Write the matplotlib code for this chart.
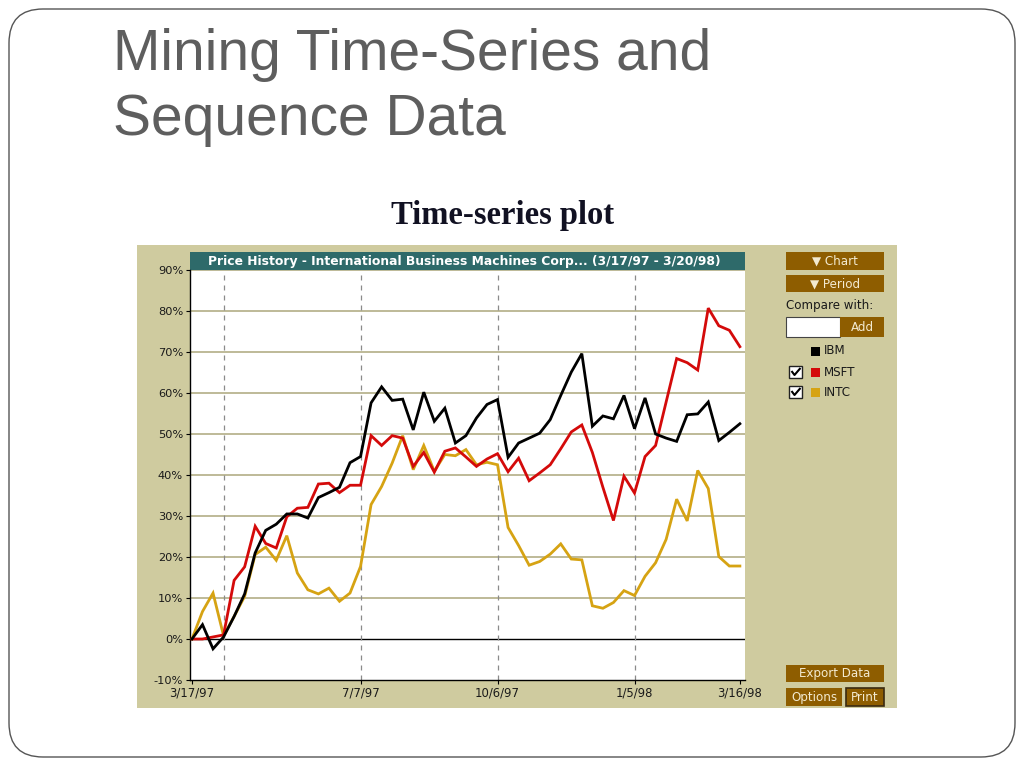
import matplotlib
matplotlib.use("Agg")
import matplotlib.pyplot as plt
from matplotlib.patches import Rectangle, FancyBboxPatch
import pandas as pd

# ---------------- data ----------------
start_date = "1997-03-17"
n_weeks = 53
ibm = [0, 3.5, -2.4, 0.5, 5.5, 11, 21, 26.5, 28, 30.5, 30.5, 29.5, 34.5, 35.7, 37, 43, 44.5,
       57.6, 61.5, 58.2, 58.5, 51, 60.2, 53.1, 56.3, 47.8, 49.6, 53.9, 57.2, 58.4,
       44.3, 47.8, 49, 50.2, 53.5, 59.4, 65.1, 69.6, 51.9, 54.4, 53.7, 59.4, 51.3,
       58.8, 50, 49, 48.2, 54.7, 54.9, 57.8, 48.4, 50.4, 52.5]
msft = [0, 0, 0.5, 1, 14.3, 17.6, 27.5, 23.3, 22.2, 29.8, 31.9, 32.1, 37.8, 38, 35.7, 37.5, 37.5,
        49.6, 47.2, 49.6, 49, 42.1, 45.5, 40.7, 45.8, 46.6, 44.4, 42.1, 43.9, 45.2,
        40.8, 44.1, 38.6, 40.5, 42.5, 46.4, 50.5, 52.2, 45.5, 37, 28.9, 39.7, 35.6,
        44.5, 47.2, 57.8, 68.4, 67.4, 65.6, 80.7, 76.4, 75.3, 71.3]
intc = [0, 6.7, 11.2, 0.8, 5.5, 10.4, 20.6, 22.4, 19.2, 25.2, 16.1, 12, 11, 12.4, 9.2, 11.2, 17.7,
        32.8, 37.2, 42.9, 49.6, 41.3, 47.2, 40.9, 45, 44.7, 46.2, 42.5, 43.1, 42.5,
        27.2, 22.8, 18, 18.9, 20.7, 23.2, 19.5, 19.3, 8.1, 7.5, 8.9, 11.8, 10.6,
        15.3, 18.6, 24.3, 34.1, 28.8, 41.1, 36.7, 20.1, 17.8, 17.8]
series_names = ["IBM", "MSFT", "INTC"]
series_colors = ["#000000", "#d40a0a", "#d6a313"]
x_tick_dates = ["1997-03-17", "1997-07-07", "1997-10-06", "1998-01-05", "1998-03-16"]
x_tick_labels = ["3/17/97", "7/7/97", "10/6/97", "1/5/98", "3/16/98"]
dashed_dates = ["1997-04-07", "1997-07-07", "1997-10-06", "1998-01-05"]
y_ticks = [-10, 0, 10, 20, 30, 40, 50, 60, 70, 80, 90]
y_tick_labels = ["-10%", "0%", "10%", "20%", "30%", "40%", "50%", "60%", "70%", "80%", "90%"]
chart_title = "Price History - International Business Machines Corp... (3/17/97 - 3/20/98)"

dates = pd.date_range(start_date, periods=n_weeks, freq="7D")

# ---------------- figure ----------------
W, H = 1024, 768
fig = plt.figure(figsize=(W / 100, H / 100), dpi=100)
fig.patch.set_facecolor("white")

def rect(x0, y0, x1, y1):
    return [x0 / W, 1 - y1 / H, (x1 - x0) / W, (y1 - y0) / H]

bg = fig.add_axes([0, 0, 1, 1], zorder=0)
bg.set_xlim(0, W)
bg.set_ylim(H, 0)
bg.axis("off")

# slide frame
bg.add_patch(FancyBboxPatch((9, 9), 1006, 748, boxstyle="round,pad=0,rounding_size=34",
                            facecolor="white", edgecolor="#555555", linewidth=1.0))

# slide title
title_col = "#5e5e5e"
bg.text(113, 70, "Mining Time-Series and", fontsize=41, color=title_col,
        family="Liberation Sans", va="baseline", ha="left")
bg.text(113, 135, "Sequence Data", fontsize=41, color=title_col,
        family="Liberation Sans", va="baseline", ha="left")

# subtitle
bg.text(503, 224, "Time-series plot", fontsize=23.5, fontweight="bold", color="#111122",
        family="Liberation Serif", va="baseline", ha="center")

# khaki panel
khaki = "#cfcb9f"
bg.add_patch(Rectangle((137, 245), 760, 463, facecolor=khaki, edgecolor="none"))

# chart title bar
bg.add_patch(Rectangle((190, 252), 555, 18, facecolor="#2e6a6a", edgecolor="none"))
bg.text(464, 261.5, chart_title, fontsize=8.9, fontweight="bold", color="white",
        family="DejaVu Sans", ha="center", va="center")

# buttons
btn_col = "#8e5d00"
btn_txt = "#f3ead0"
ui_fs = 8.6

def button(x0, y0, x1, y1, text, edge="none", fs=ui_fs):
    bg.add_patch(Rectangle((x0, y0), x1 - x0, y1 - y0, facecolor=btn_col,
                           edgecolor=edge, linewidth=1.2))
    bg.text((x0 + x1) / 2, (y0 + y1) / 2 + 0.5, text, fontsize=fs, color=btn_txt,
            family="DejaVu Sans", ha="center", va="center")

button(786, 252, 884, 270, "\u25bc Chart")
button(786, 275, 884, 292, "\u25bc Period")
bg.text(786, 306, "Compare with:", fontsize=ui_fs, color="#1a1a1a", family="DejaVu Sans",
        ha="left", va="center")
bg.add_patch(Rectangle((786, 317), 54, 20, facecolor="white", edgecolor="#444444", linewidth=0.8))
button(840, 317, 884, 337, "Add")

# legend
leg_y = [351, 372, 392]
for name, col, yy, chk in zip(series_names, series_colors, leg_y, [False, True, True]):
    bg.add_patch(Rectangle((811, yy - 4.5), 9, 9, facecolor=col, edgecolor="none"))
    bg.text(824, yy, name, fontsize=ui_fs, color="#1a1a1a", family="DejaVu Sans",
            ha="left", va="center")
    if chk:
        bg.add_patch(Rectangle((789, yy - 6), 13, 12, facecolor="white",
                               edgecolor="#222222", linewidth=1.0))
        bg.plot([791.5, 794.5, 800.5], [yy - 1, yy + 3, yy - 4], color="black", lw=1.5,
                solid_capstyle="butt")

button(786, 665, 884, 682, "Export Data")
button(786, 688, 842, 706, "Options")
button(846, 688, 884, 706, "Print", edge="#3a2a10")

# ---------------- main plot ----------------
ax = fig.add_axes(rect(190, 270, 745, 680), zorder=2)
ax.set_facecolor("white")
for s in ["top", "right"]:
    ax.spines[s].set_visible(False)
for s in ["left", "bottom"]:
    ax.spines[s].set_color("black")
    ax.spines[s].set_linewidth(1.0)

for yv in y_ticks:
    if yv == -10:
        continue
    if yv == 0:
        ax.axhline(yv, color="black", lw=1.0, zorder=1)
    else:
        ax.axhline(yv, color="#b3ae86", lw=1.2, zorder=1)

for d in dashed_dates:
    ax.axvline(pd.Timestamp(d), color="#8a8a8a", lw=0.9, ls=(0, (4, 4)), zorder=1)

for vals, col in [(intc, series_colors[2]), (msft, series_colors[1]), (ibm, series_colors[0])]:
    ax.plot(dates, vals, color=col, lw=2.0, zorder=3, solid_joinstyle="miter")

ax.set_ylim(-10, 90)
ax.set_xlim(pd.Timestamp(start_date) - pd.Timedelta(days=1.3),
            pd.Timestamp("1998-03-16") + pd.Timedelta(days=3.4))
ax.set_yticks(y_ticks)
ax.set_yticklabels(y_tick_labels)
ax.set_xticks([pd.Timestamp(d) for d in x_tick_dates])
ax.set_xticklabels(x_tick_labels)
ax.tick_params(axis="y", labelsize=8.2, colors="black", length=3, width=0.8, pad=2)
ax.tick_params(axis="x", labelsize=8.4, colors="black", length=3, width=0.8, pad=1.5)
for lab in ax.get_xticklabels() + ax.get_yticklabels():
    lab.set_family("DejaVu Sans")
    lab.set_color("#1a1a1a")

fig.savefig("out.png", dpi=100, facecolor="white")
